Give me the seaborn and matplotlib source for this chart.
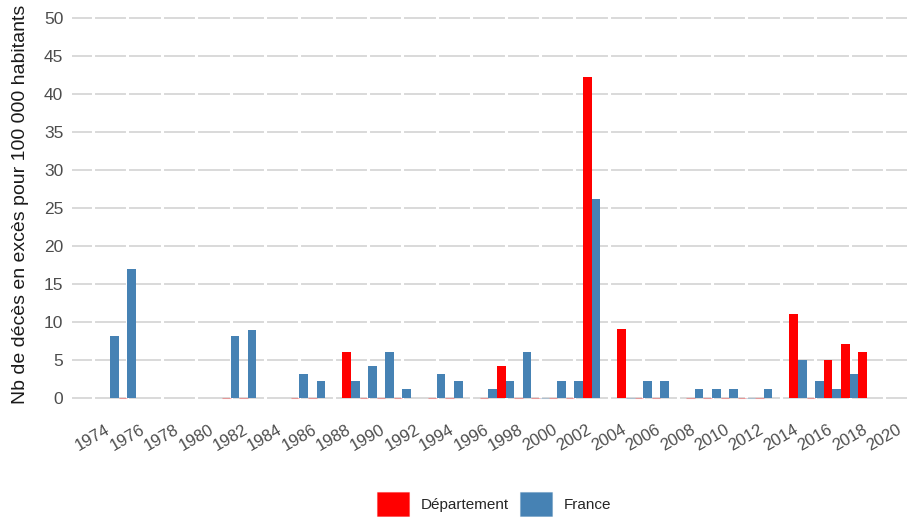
import matplotlib
matplotlib.use("Agg")
import matplotlib.pyplot as plt
import seaborn as sns
import numpy as np
import pandas as pd

# years where at least one bar (even a zero one) exists
annees = [1975, 1976, 1982, 1983, 1986, 1987, 1989, 1990, 1991, 1992,
          1994, 1995, 1997, 1998, 1999, 2000, 2001, 2002, 2003, 2005,
          2006, 2007, 2009, 2010, 2011, 2012, 2013, 2015, 2016, 2017,
          2018, 2019]

departement = [np.nan, 0, 0, 0, 0, 0, 6.1, 0, 0, 0,
               0, 0, 0, 4.2, 0, 0, 0, 0, 42.2, 9.1,
               0, 0, 0, 0, 0, 0, 0, 11.1, 0, 5.0,
               7.1, 6.1]

france = [8.1, 17.0, 8.1, 9.0, 3.2, 2.2, 2.2, 4.2, 6.1, 1.2,
          3.2, 2.2, 1.2, 2.2, 6.1, 0, 2.2, 2.2, 26.2, 0,
          2.2, 2.2, 1.2, 1.2, 1.2, 0, 1.2, 5.0, 2.2, 1.2,
          3.2, np.nan]

zones = ["Département", "France"]
couleurs = {"Département": "#FF0000", "France": "#4682B4"}
xticks = list(range(1974, 2021, 2))
yticks = list(range(0, 51, 5))

df = pd.DataFrame({
    "annee": annees * 2,
    "zone": ["Département"] * len(annees) + ["France"] * len(annees),
    "valeur": departement + france,
}).dropna()

sns.set_theme(style="white")
plt.rcParams['font.family'] = ['Liberation Sans', 'DejaVu Sans']

fig = plt.figure(figsize=(9.07, 5.17), dpi=100)
ax = fig.add_axes([72 / 907, (517 - 417) / 517, (907 - 72) / 907, 417 / 517])

sns.barplot(data=df, x="annee", y="valeur", hue="zone", hue_order=zones,
            palette=couleurs, native_scale=True, width=1.0, dodge=True,
            saturation=1, errorbar=None, linewidth=0, ax=ax)

# zero-height bars show up as a faint line on the baseline
for p in ax.patches:
    if p.get_height() == 0:
        c = p.get_facecolor()
        p.set_edgecolor((c[0], c[1], c[2], 0.3))
        p.set_linewidth(0.8)

handles, labels = ax.get_legend_handles_labels()
ax.get_legend().remove()

ax.set_xlim(1972.78, 2021.34)
ax.set_ylim(-2.5, 52.4)
ax.set_xticks(xticks)
ax.set_xticklabels([str(t) for t in xticks], rotation=30, ha="center")
ax.set_yticks(yticks)

ax.set_axisbelow(True)
ax.yaxis.grid(True, color="#cfcfcf", linewidth=1.1)
ax.xaxis.grid(False)
for t in xticks:
    ax.axvline(t, color="white", linewidth=2.2, zorder=0.9)

for s in ax.spines.values():
    s.set_visible(False)

ax.tick_params(axis="both", length=4.3, width=0.8, color="#333333",
               labelcolor="#4d4d4d", labelsize=12.5)
ax.tick_params(axis="x", pad=-1.0, labelsize=12)
ax.tick_params(axis="y", pad=2)

ax.set_xlabel("")
ax.set_ylabel("Nb de décès en excès pour 100 000 habitants", fontsize=14,
              color="#1a1a1a")
ax.yaxis.set_label_coords(-0.052, 0.51)

fig.legend(handles, labels, loc="center", bbox_to_anchor=(494 / 907, 1 - 504 / 517),
           ncol=2, frameon=False, fontsize=11, handlelength=2.1,
           handleheight=2.0, handletextpad=0.8, columnspacing=0.7)

fig.savefig("out.png", dpi=100)
